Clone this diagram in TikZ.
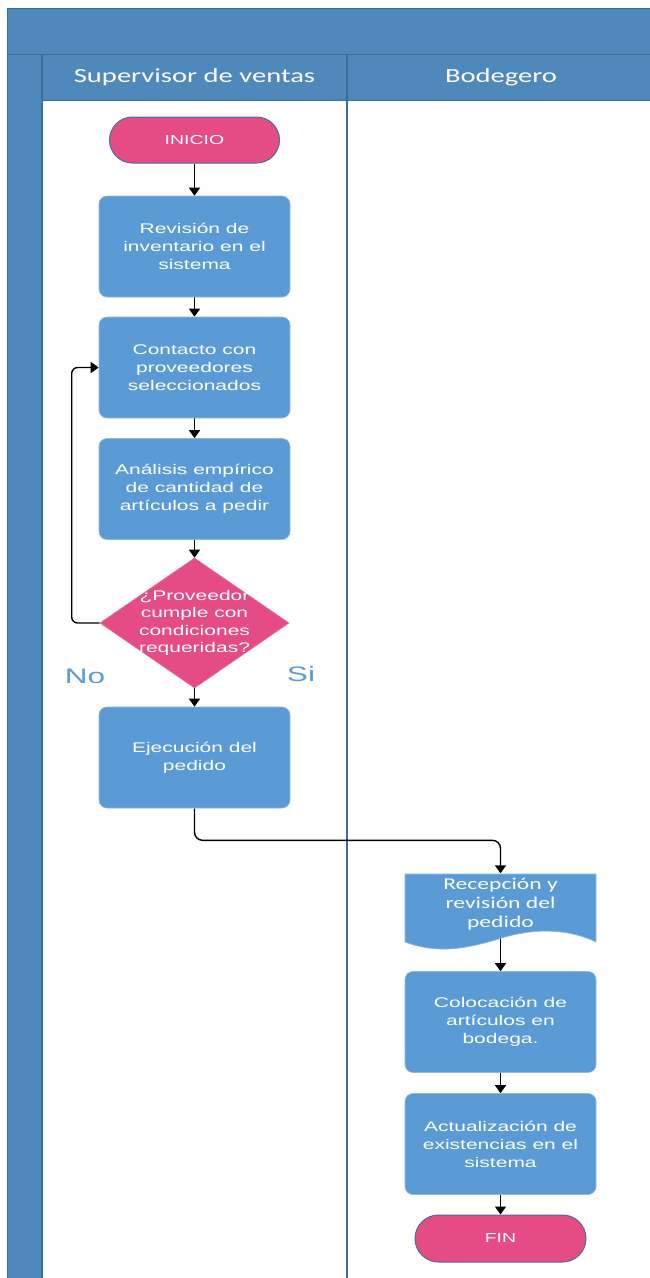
\documentclass[tikz,border=0pt]{standalone}
\usepackage{fontspec}
\usetikzlibrary{shapes.geometric,shapes.misc,arrows.meta,backgrounds}
\newfontfamily\boxfont[FakeStretch=1.5]{Liberation Sans}
\newfontfamily\hdrfont[FakeStretch=1.43]{Carlito}
\definecolor{hdr}{HTML}{4F88BB}
\definecolor{hdrline}{HTML}{3C6C9C}
\definecolor{boxblue}{HTML}{5B9BD5}
\definecolor{boxedge}{HTML}{8DB8E2}
\definecolor{pinkfill}{HTML}{E54B84}
\definecolor{stadline}{HTML}{41719C}
\tikzset{
  lanetitle/.style={text=white, font=\hdrfont\fontsize{20}{24}\selectfont, inner sep=0pt},
  procbox/.style={rectangle, rounded corners=8pt, fill=boxblue, draw=boxedge, line width=0.6pt,
    minimum width=191pt, minimum height=101pt, inner sep=0pt, align=center, text=white,
    font=\boxfont\fontsize{14}{18}\selectfont},
  terminal/.style={rounded rectangle, fill=pinkfill, draw=stadline, line width=1pt,
    minimum width=170pt, minimum height=46pt, inner sep=0pt, text=white,
    font=\boxfont\fontsize{13}{16}\selectfont},
  decision/.style={diamond, fill=pinkfill, draw=pinkfill!85!white, line width=0.6pt,
    minimum width=189pt, minimum height=130pt, inner sep=0pt},
  dectext/.style={align=center, text=white, inner sep=0pt, font=\boxfont\fontsize{14}{17.5}\selectfont},
  doctext/.style={align=center, text=white, inner sep=0pt, font=\hdrfont\fontsize{16.5}{19}\selectfont},
  branchlbl/.style={text=boxblue, inner sep=0pt, font=\boxfont\fontsize{21}{24}\selectfont},
  arr/.style={draw=black, line width=1.4pt, -{Triangle[length=8pt,width=11pt]}},
}
\begin{document}
\begin{tikzpicture}[x=1pt,y=-1pt]
\useasboundingbox (0,0) rectangle (649,1278);
% pool and lanes
\begin{scope}[on background layer]
\fill[white] (0,0) rectangle (649,1278);
\fill[hdr] (7,8) rectangle (660,100);
\fill[hdr] (7,54) rectangle (42,1290);
\draw[hdrline, line width=1pt] (7,8) -- (660,8);
\draw[hdrline, line width=1pt] (7,8) -- (7,1290);
\draw[hdrline, line width=1pt] (7,54) -- (660,54);
\draw[hdrline, line width=1pt] (42,100) -- (660,100);
\draw[hdrline, line width=1.5pt] (42,54) -- (42,1290);
\draw[hdrline, line width=1.5pt] (347,54) -- (347,1290);
\end{scope}
\node[lanetitle] (h1) at (194.5,77) {Supervisor de ventas};
\node[lanetitle] (h2) at (501,77) {Bodegero};

% nodes
\node[terminal] (ini) at (194.5,140) {INICIO};
\node[procbox] (rev) at (194.5,246.5) {Revisión de\\inventario en el\\sistema};
\node[procbox] (con) at (194.5,367.5) {Contacto con\\proveedores\\seleccionados};
\node[procbox] (ana) at (194.5,489) {Análisis empírico\\de cantidad de\\artículos a pedir};
\node[decision] (dec) at (194.5,623) {};
\node[dectext] (dect) at (dec.center) {¿Proveedor\\cumple con\\condiciones\\requeridas?};
\node[branchlbl] (no) at (85,676) {No};
\node[branchlbl] (si) at (301,674) {Si};
\node[procbox] (eje) at (194.5,757.5) {Ejecución del\\pedido};

\fill[boxblue] (405,874) -- (596,874) -- (596,942)
  .. controls (575,932) and (545,926) .. (505,937)
  .. controls (470,948) and (440,955) .. (405,942) -- cycle;
\draw[boxedge, line width=0.6pt] (405,874) -- (596,874) -- (596,942)
  .. controls (575,932) and (545,926) .. (505,937)
  .. controls (470,948) and (440,955) .. (405,942) -- cycle;
\node[minimum width=191pt, minimum height=62pt, inner sep=0pt] (rec) at (500.5,904.5) {};
\node[doctext] (rect) at (500.5,904) {Recepción y\\revisión del\\pedido};

\node[procbox] (col) at (500.5,1022) {Colocación de\\artículos en\\bodega.};
\node[procbox] (act) at (500.5,1144) {Actualización de\\existencias en el\\sistema};
\node[terminal, minimum width=171pt, minimum height=47pt] (fin) at (500.5,1238.5) {FIN};

% connectors
\begin{scope}[on background layer]
\draw[arr] (ini.south) -- (rev.north);
\draw[arr] (rev.south) -- (con.north);
\draw[arr] (con.south) -- (ana.north);
\draw[arr] (ana.south) -- (dec.north);
\draw[arr] (dec.south) -- (eje.north);
\draw[arr, rounded corners=6pt] (dec.west) -- ++(-28,0) |- (con.west);
\draw[arr, rounded corners=8pt] (eje.south) -- ++(0,32) -| (rec.north);
\draw[arr] (rec.south) -- (col.north);
\draw[arr] (col.south) -- (act.north);
\draw[arr] (act.south) -- (fin.north);
\end{scope}
\end{tikzpicture}
\end{document}
